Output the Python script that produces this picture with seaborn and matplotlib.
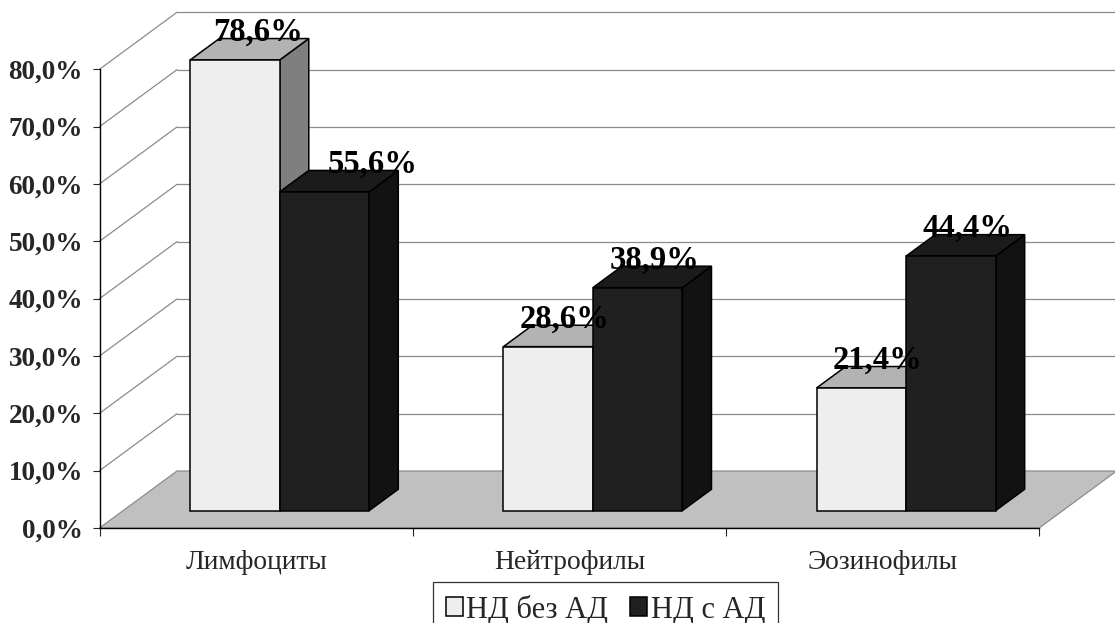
import numpy as np
import pandas as pd
import matplotlib
matplotlib.use("Agg")
import matplotlib.pyplot as plt
from matplotlib.patches import Polygon, Patch
import seaborn as sns

# ---- data -------------------------------------------------------------
categories = ["Лимфоциты", "Нейтрофилы", "Эозинофилы"]
series_names = ["НД без АД", "НД с АД"]
values_without_ad = [78.6, 28.6, 21.4]
values_with_ad = [55.6, 38.9, 44.4]
y_ticks = [0, 10, 20, 30, 40, 50, 60, 70, 80]

df = pd.DataFrame({
    "category": categories * 2,
    "group": [series_names[0]] * len(categories) + [series_names[1]] * len(categories),
    "value": values_without_ad + values_with_ad,
})

# ---- style --------------------------------------------------------------
sns.set_style("white")
plt.rcParams["font.family"] = ["Liberation Serif", "DejaVu Serif"]

FRONT = {series_names[0]: "#eeeeee", series_names[1]: "#202020"}
TOP = {series_names[0]: "#b3b3b3", series_names[1]: "#1b1b1b"}
SIDE = {series_names[0]: "#7f7f7f", series_names[1]: "#121212"}
GRID = "#8c8c8c"
FLOOR = "#c0c0c0"

# oblique projection: full depth of the box in data units
DX, DY = 0.2474, 9.94
# bars occupy this slice of the depth
F0, F1 = 0.305, 0.68

fig = plt.figure(figsize=(11.15, 6.23), dpi=100)
fig.patch.set_facecolor("white")
ax = fig.add_axes([0.08924, 0.15249, 0.8427, 0.7363])
ax.set_facecolor("none")

sns.barplot(
    data=df, x="category", y="value", hue="group",
    order=categories, hue_order=series_names,
    palette=[FRONT[s] for s in series_names],
    width=0.5714, gap=0, dodge=True, saturation=1,
    errorbar=None, legend=False,
    edgecolor="black", linewidth=1.1, ax=ax,
)
bars = sorted(list(ax.patches), key=lambda p: p.get_x())

ax.set_xlim(-0.5, 2.5)
ax.set_ylim(0, 80)
ax.set_xlabel("")
ax.set_ylabel("")

# ---- walls and floor ----------------------------------------------------
x_left, x_right = -0.5, 2.5
floor = Polygon([(x_left, 0), (x_right, 0), (x_right + DX, DY), (x_left + DX, DY)],
                closed=True, facecolor=FLOOR, edgecolor=GRID, linewidth=0.9,
                zorder=0.5, clip_on=False)
ax.add_patch(floor)
for t in y_ticks[1:]:
    ax.plot([x_left + DX, x_right + DX + 0.05], [t + DY, t + DY],
            color=GRID, lw=0.9, zorder=0.4, clip_on=False)
    ax.plot([x_left, x_left + DX], [t, t + DY],
            color=GRID, lw=0.9, zorder=0.4, clip_on=False)

# ---- 3D boxes built from the seaborn bars --------------------------------
label_shift_px = {("НД без АД", "Лимфоциты"): 8, ("НД с АД", "Лимфоциты"): 34}
front_rgb = {s: np.array(matplotlib.colors.to_rgb(c)) for s, c in FRONT.items()}

for i, p in enumerate(bars):
    x0, w, h = p.get_x(), p.get_width(), p.get_height()
    fc = np.array(p.get_facecolor()[:3])
    series = min(series_names, key=lambda s: np.abs(fc - front_rgb[s]).sum())
    cat = categories[int(round(x0 + w / 2))]
    z = 2 + i * 0.1

    side = Polygon([(x0 + w + F0 * DX, F0 * DY), (x0 + w + F1 * DX, F1 * DY),
                    (x0 + w + F1 * DX, h + F1 * DY), (x0 + w + F0 * DX, h + F0 * DY)],
                   closed=True, facecolor=SIDE[series], edgecolor="black",
                   linewidth=1.1, zorder=z, clip_on=False)
    top = Polygon([(x0 + F0 * DX, h + F0 * DY), (x0 + F1 * DX, h + F1 * DY),
                   (x0 + w + F1 * DX, h + F1 * DY), (x0 + w + F0 * DX, h + F0 * DY)],
                  closed=True, facecolor=TOP[series], edgecolor="black",
                  linewidth=1.1, zorder=z + 0.01, clip_on=False)
    ax.add_patch(side)
    ax.add_patch(top)
    p.set_x(x0 + F0 * DX)
    p.set_y(F0 * DY)
    p.set_zorder(z + 0.02)
    p.set_clip_on(False)

    label = f"{h:.1f}".replace(".", ",") + "%"
    shift = label_shift_px.get((series, cat), 2) * 0.72
    ax.annotate(label,
                xy=(x0 + w / 2 + (F0 + F1) / 2 * DX, h + (F0 + F1) / 2 * DY),
                xytext=(shift, 6.0), textcoords="offset points",
                ha="center", va="baseline", fontsize=23.5, fontweight="bold",
                color="black", zorder=10, annotation_clip=False)

# ---- axes ----------------------------------------------------------------
for side_name in ("top", "right"):
    ax.spines[side_name].set_visible(False)
for side_name in ("left", "bottom"):
    ax.spines[side_name].set_color("black")
    ax.spines[side_name].set_linewidth(1.0)
    ax.spines[side_name].set_zorder(3)

ax.set_yticks(y_ticks)
ax.set_yticklabels([f"{t:.1f}".replace(".", ",") + "%" for t in y_ticks],
                   fontsize=19.5, fontweight="bold")
ax.tick_params(axis="y", direction="out", length=5, width=0.8, pad=7.0, left=True)

ax.set_xticks([-0.5, 0.5, 1.5, 2.5])
ax.set_xticklabels([])
ax.set_xticks([0, 1, 2], minor=True)
ax.set_xticklabels(categories, minor=True, fontsize=19.8)
ax.tick_params(axis="x", which="major", direction="out", length=5.8, width=0.8, bottom=True)
ax.tick_params(axis="x", which="minor", length=0, pad=16)

# ---- legend --------------------------------------------------------------
handles = [Patch(facecolor=FRONT[s], edgecolor="black", linewidth=1.1) for s in series_names]
leg = fig.legend(handles, series_names, loc="upper center",
                 bbox_to_anchor=(0.543, 0.0663), ncol=2, fontsize=22,
                 frameon=True, fancybox=False, shadow=False, borderaxespad=0,
                 handlelength=0.55, handleheight=0.56, handletextpad=0.12,
                 columnspacing=0.72, borderpad=0.42)
leg.get_frame().set_edgecolor("black")
leg.get_frame().set_linewidth(0.9)

fig.savefig("out.png", dpi=100, facecolor="white")
